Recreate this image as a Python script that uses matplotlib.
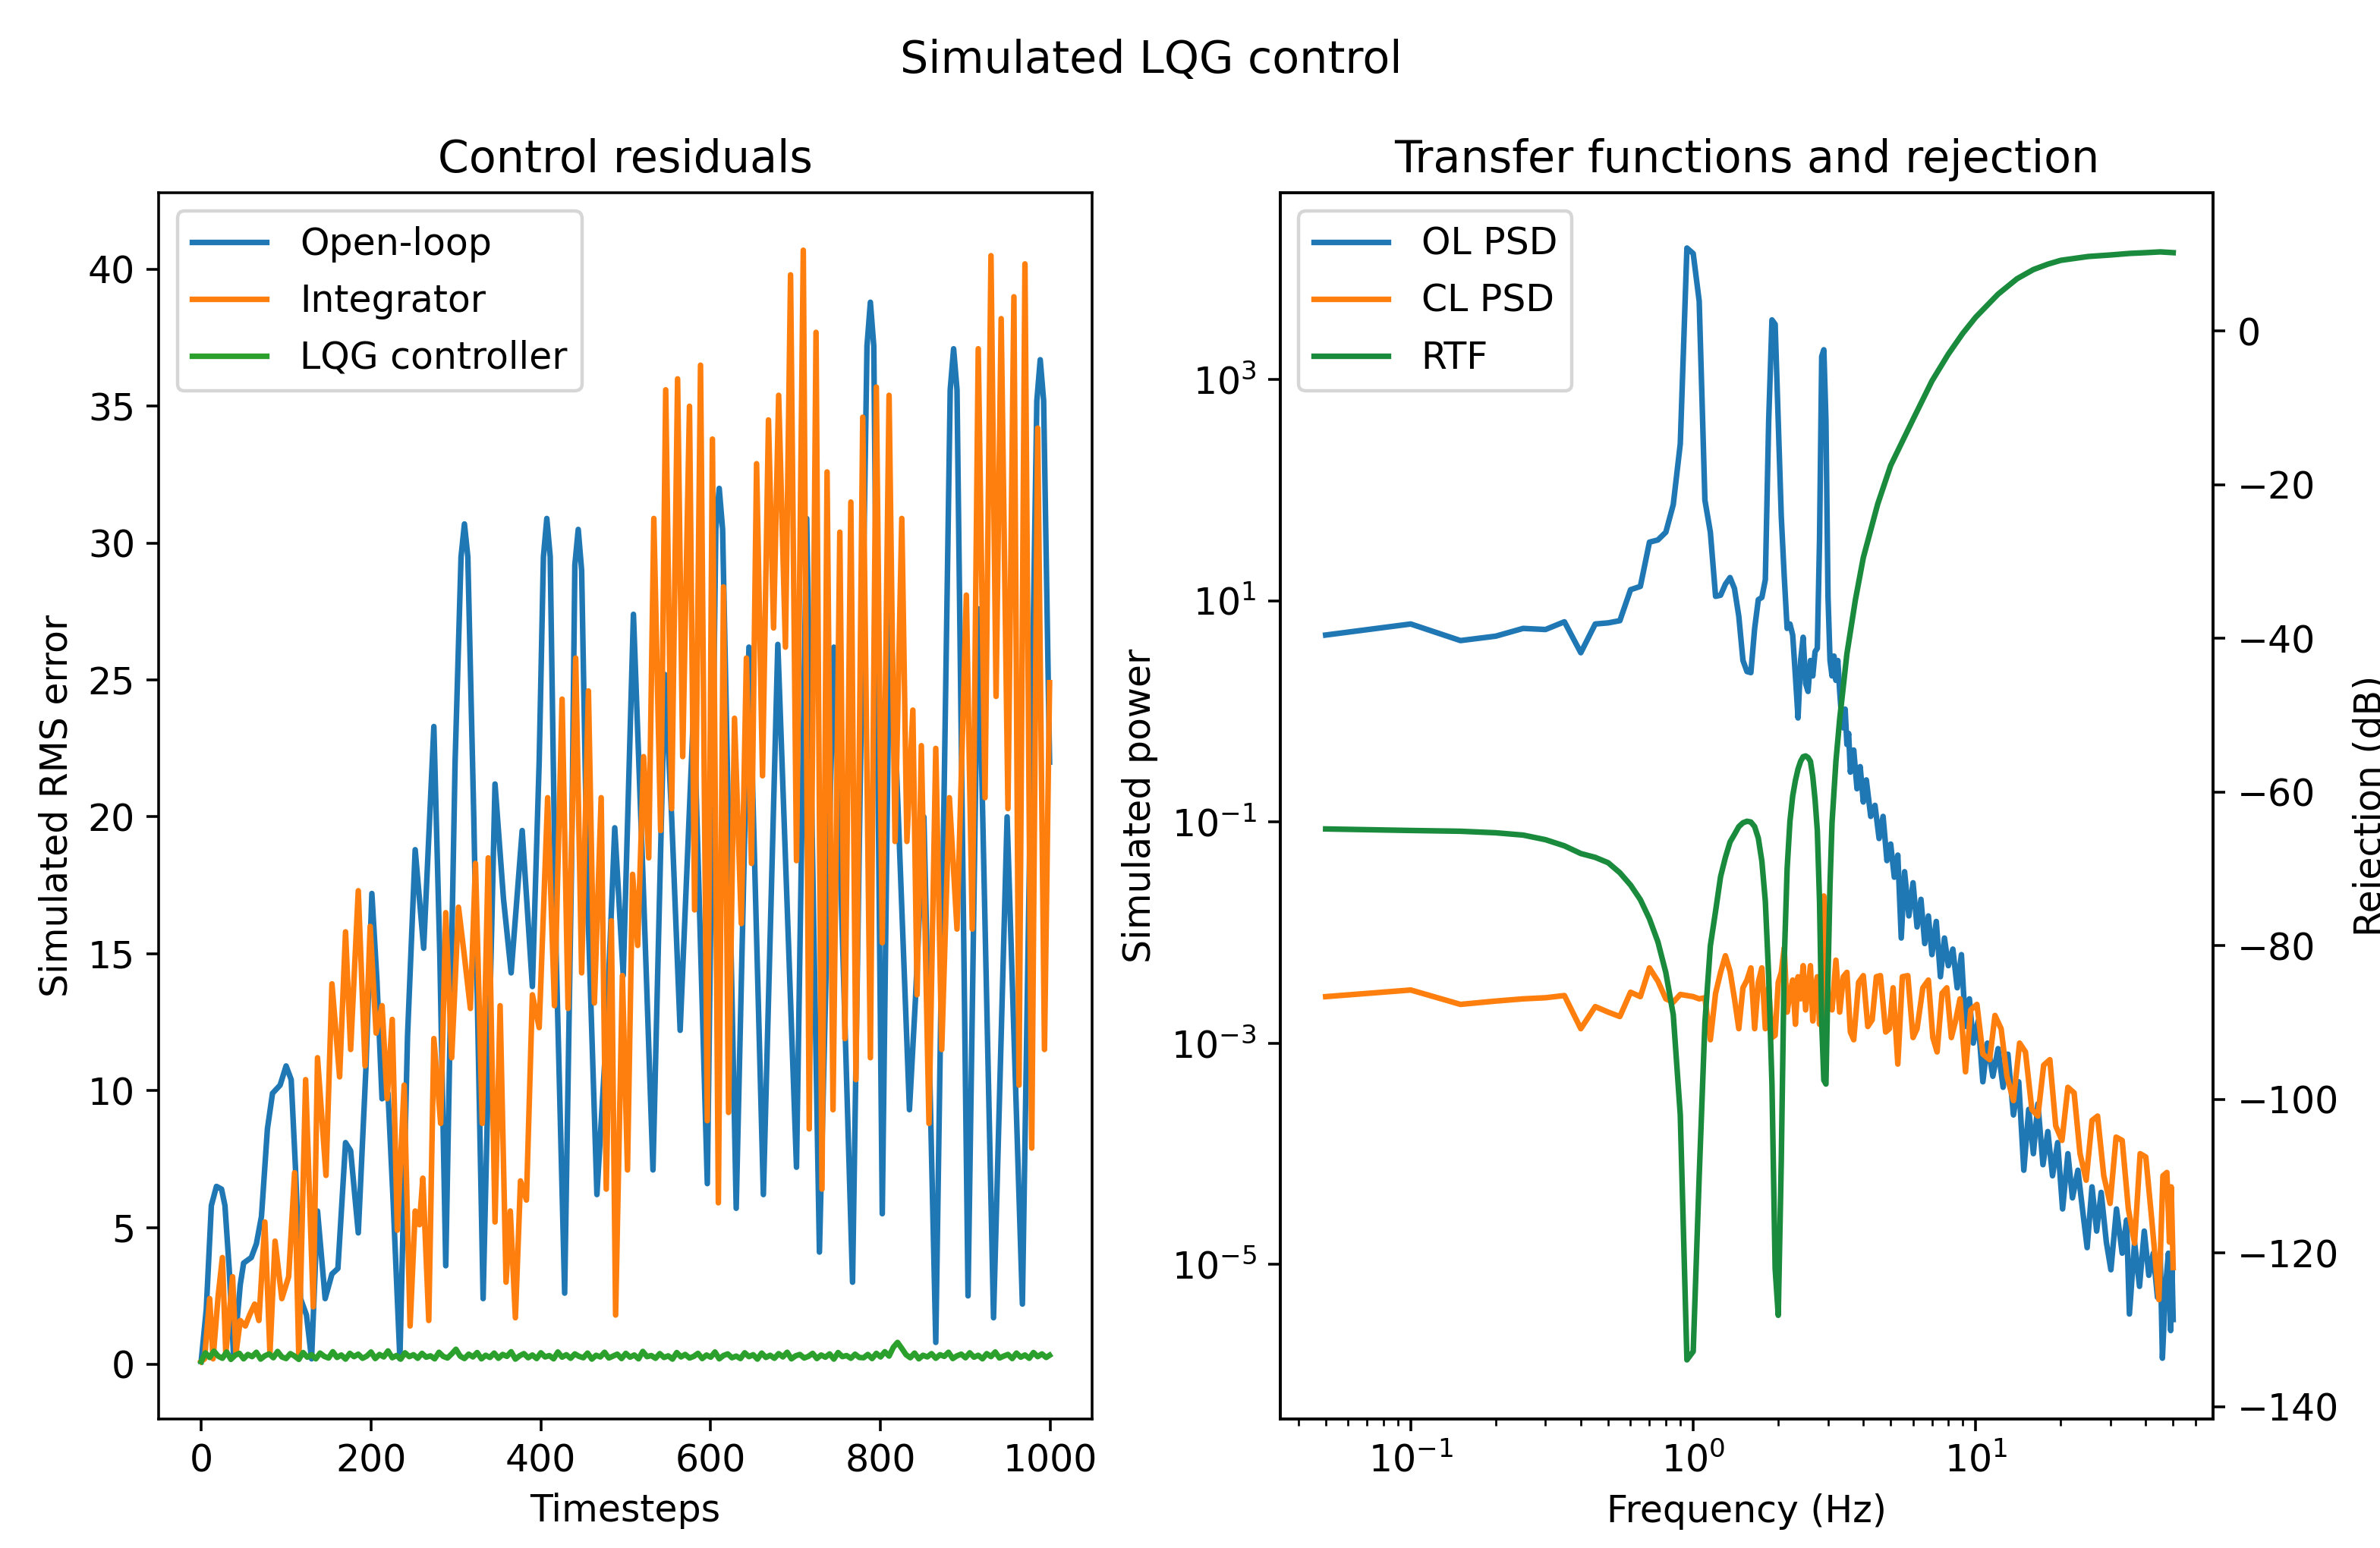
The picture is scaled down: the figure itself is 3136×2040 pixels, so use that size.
import numpy as np
import matplotlib
matplotlib.use('Agg')
import matplotlib.pyplot as plt
from matplotlib.ticker import NullLocator

plt.rcParams['font.size'] = 11
plt.rcParams['lines.linewidth'] = 1.65

# ---- left panel: residuals (turning points) ----
ol_t = [0, 6, 12, 18, 24, 28, 33, 38, 42, 46, 50, 59, 65, 71, 78, 84, 93, 100,
        106, 111, 117, 124, 130, 137, 146, 154, 161, 170, 176, 185, 194, 201,
        207, 213, 220, 226, 234, 243, 252, 262, 274, 281, 288, 299, 306, 310,
        314, 321, 332, 346, 356, 365, 378, 390, 398, 403, 407, 411, 418, 428,
        436, 440, 444, 448, 455, 466, 477, 487, 497, 509, 520, 532, 546, 554,
        564, 580, 596, 606, 610, 614, 630, 645, 662, 679, 701, 713, 728, 745,
        767, 784, 788, 792, 802, 811, 834, 841, 851, 865, 882, 886, 890, 903,
        915, 933, 949, 967, 984, 988, 992, 999]
ol_v = [0.1, 2.0, 5.8, 6.5, 6.4, 5.8, 3.5, 0.4, 1.5, 2.9, 3.7, 3.9, 4.4, 5.4,
        8.6, 9.9, 10.2, 10.9, 10.4, 7.2, 2.4, 1.8, 0.2, 5.6, 2.4, 3.3, 3.5, 8.1,
        7.8, 4.8, 10.8, 17.2, 14.0, 9.7, 9.9, 6.0, 0.2, 12.0, 18.8, 15.2, 23.3,
        15.0, 3.6, 22.0, 29.5, 30.7, 29.5, 20.0, 2.4, 21.2, 17.0, 14.3, 19.5,
        13.8, 22.0, 29.5, 30.9, 29.5, 15.0, 2.6, 18.0, 29.2, 30.5, 29.0, 17.0,
        6.2, 12.0, 19.6, 14.2, 27.4, 18.0, 7.1, 25.2, 20.0, 12.2, 24.0, 6.6,
        30.5, 32.0, 30.5, 5.7, 26.2, 6.2, 26.3, 7.2, 30.9, 4.1, 26.2, 3.0, 37.2,
        38.8, 37.2, 5.5, 28.1, 9.3, 13.3, 20.0, 0.8, 35.6, 37.1, 35.6, 2.5,
        27.6, 1.7, 20.0, 2.2, 35.2, 36.7, 35.2, 22.0]

int_t = [0, 4, 10, 14, 20, 25, 29, 37, 41, 46, 52, 57, 63, 68, 75, 81, 87, 95,
         103, 110, 115, 123, 132, 137, 147, 154, 163, 170, 176, 185, 193, 199,
         206, 213, 219, 225, 231, 239, 246, 252, 257, 261, 268, 274, 282, 288,
         295, 303, 310, 317, 323, 331, 338, 346, 352, 359, 364, 370, 376, 383,
         390, 398, 408, 416, 425, 432, 441, 448, 456, 463, 471, 477, 483, 488,
         496, 502, 508, 514, 521, 527, 533, 541, 547, 554, 561, 567, 575, 581,
         588, 596, 602, 609, 615, 621, 628, 636, 642, 648, 654, 661, 668, 674,
         680, 688, 694, 701, 709, 716, 724, 731, 737, 744, 752, 758, 765, 771,
         779, 788, 795, 802, 810, 817, 825, 831, 838, 843, 848, 857, 865, 872,
         881, 890, 901, 908, 915, 923, 930, 936, 942, 950, 957, 963, 970, 978,
         985, 993, 999]
int_v = [0.1, 0.2, 2.4, 0.2, 2.5, 3.9, 0.4, 3.2, 0.4, 1.6, 1.4, 1.8, 2.2, 1.6,
         5.2, 0.4, 4.5, 2.4, 3.2, 7.0, 0.2, 10.4, 2.1, 11.2, 6.9, 13.9, 10.5,
         15.8, 11.5, 17.3, 10.9, 16.0, 12.1, 13.1, 9.7, 12.6, 4.9, 10.2, 1.4,
         5.6, 5.1, 6.8, 1.6, 11.9, 8.8, 16.5, 11.2, 16.7, 14.9, 13.0, 18.3, 8.8,
         18.5, 5.2, 13.1, 3.0, 5.6, 1.7, 6.7, 6.0, 13.5, 12.3, 20.7, 13.1, 24.3,
         13.0, 25.8, 14.3, 24.6, 13.2, 20.7, 6.4, 16.2, 1.8, 14.2, 7.1, 17.9,
         15.3, 22.2, 18.5, 30.9, 19.5, 35.6, 20.3, 36.0, 22.2, 35.0, 16.6, 36.5,
         8.9, 33.8, 5.9, 28.4, 9.2, 23.6, 16.1, 25.8, 18.3, 32.9, 21.5, 34.5,
         26.9, 35.4, 26.2, 39.8, 18.4, 40.7, 8.6, 37.7, 6.4, 32.6, 9.3, 30.4,
         11.9, 31.5, 10.4, 34.6, 11.2, 35.7, 15.4, 35.4, 19.1, 30.9, 19.1, 23.9,
         13.5, 22.6, 8.8, 22.5, 11.5, 20.7, 15.9, 28.1, 15.9, 37.1, 20.7, 40.5,
         24.4, 38.2, 20.3, 39.0, 10.2, 40.2, 7.9, 34.2, 11.5, 24.9]

lqg_t = list(range(0, 1000, 5)) + [999]
lqg_v = [0.10, 0.42, 0.25, 0.48, 0.30, 0.22, 0.45, 0.18, 0.33, 0.40, 0.20, 0.36,
         0.28, 0.44, 0.19, 0.31, 0.38, 0.24, 0.47, 0.27, 0.21, 0.39, 0.30, 0.18,
         0.43, 0.26, 0.35, 0.20, 0.41, 0.29, 0.23, 0.46, 0.25, 0.34, 0.19, 0.40,
         0.28, 0.37, 0.22, 0.30, 0.45, 0.21, 0.36, 0.27, 0.49, 0.24, 0.32, 0.19,
         0.42, 0.28, 0.35, 0.22, 0.40, 0.26, 0.31, 0.20, 0.44, 0.29, 0.23, 0.38,
         0.55, 0.30, 0.21, 0.37, 0.27, 0.43, 0.20, 0.33, 0.25, 0.41, 0.22, 0.36,
         0.29, 0.46, 0.19, 0.31, 0.39, 0.24, 0.34, 0.21, 0.42, 0.27, 0.32, 0.20,
         0.45, 0.26, 0.35, 0.22, 0.38, 0.29, 0.24, 0.41, 0.19, 0.33, 0.27, 0.44,
         0.23, 0.30, 0.37, 0.21, 0.40, 0.26, 0.34, 0.20, 0.47, 0.28, 0.32, 0.22,
         0.39, 0.25, 0.31, 0.19, 0.43, 0.27, 0.36, 0.23, 0.29, 0.40, 0.21, 0.34,
         0.26, 0.45, 0.20, 0.32, 0.38, 0.24, 0.30, 0.21, 0.42, 0.28, 0.35, 0.19,
         0.41, 0.25, 0.33, 0.22, 0.39, 0.27, 0.44, 0.20, 0.31, 0.36, 0.23, 0.29,
         0.40, 0.21, 0.34, 0.26, 0.38, 0.19, 0.43, 0.28, 0.32, 0.22, 0.37, 0.25,
         0.24, 0.36, 0.21, 0.40, 0.27, 0.46, 0.30, 0.62, 0.80, 0.58, 0.35, 0.24,
         0.41, 0.20, 0.33, 0.27, 0.39,
         0.22, 0.35, 0.29, 0.44, 0.21, 0.31, 0.37, 0.24, 0.42, 0.26, 0.33, 0.20,
         0.39, 0.28, 0.45, 0.23, 0.30, 0.36, 0.21, 0.41, 0.26, 0.34, 0.22, 0.43,
         0.28, 0.38, 0.25, 0.33]

# ---- right panel: PSDs (log10 power) and rejection transfer function ----
ol_f = [0.05, 0.10, 0.15, 0.20, 0.25, 0.30, 0.35, 0.40, 0.45, 0.50, 0.55, 0.60,
        0.65, 0.70, 0.75, 0.80, 0.85, 0.90, 0.95, 1.00, 1.05, 1.10, 1.15, 1.20,
        1.25, 1.30, 1.35, 1.40, 1.45, 1.50, 1.55, 1.60, 1.65, 1.70, 1.75, 1.80,
        1.85, 1.90, 1.95, 2.00, 2.05, 2.10, 2.15, 2.20, 2.25, 2.30, 2.35, 2.40,
        2.45, 2.50, 2.55, 2.60, 2.65, 2.70, 2.75, 2.80, 2.85, 2.90, 2.95, 3.00,
        3.05, 3.10, 3.15, 3.20, 3.25, 3.30, 3.35, 3.40, 3.45, 3.50, 3.55, 3.60,
        3.70, 3.80, 3.90, 4.00, 4.10, 4.25, 4.40, 4.55, 4.70, 4.85, 5.00, 5.15,
        5.30, 5.45, 5.60, 5.80, 6.00, 6.20, 6.40, 6.60, 6.80, 7.00, 7.25, 7.50,
        7.75, 8.00, 8.30, 8.60, 8.90, 9.20, 9.50, 9.80, 10.2, 10.6, 11.0, 11.5,
        12.0, 12.5, 13.0, 13.6, 14.2, 14.8, 15.4, 16.0, 16.6, 17.3, 18.0, 18.7,
        19.5, 20.3, 21.2, 22.0, 23.0, 24.0, 24.8, 25.8, 26.8, 27.8, 29.0, 30.1,
        31.5, 33.0, 34.2, 35.0, 36.5, 38.0, 39.5, 41.0, 42.5, 44.0, 45.0, 45.8,
        47.0, 48.1, 49.0, 49.5, 50.0]
ol_psd = [0.69, 0.79, 0.64, 0.68, 0.75, 0.74, 0.81, 0.53, 0.79, 0.80, 0.82, 1.10,
          1.13, 1.53, 1.55, 1.62, 1.87, 2.42, 4.19, 4.14, 3.71, 1.91, 1.62, 1.04,
          1.05, 1.15, 1.21, 1.11, 0.86, 0.46, 0.36, 0.35, 0.75, 1.01, 1.03, 1.19,
          2.63, 3.54, 3.50, 2.63, 1.76, 1.22, 0.75, 0.79, 0.69, 0.32, -0.06, 0.46,
          0.67, 0.25, 0.18, 0.46, 0.32, 0.54, 0.57, 1.55, 3.21, 3.27, 2.63, 1.04,
          0.46, 0.32, 0.50, 0.28, 0.46, 0.18, -0.05, -0.15, 0.02, -0.30, -0.20,
          -0.55, -0.35, -0.70, -0.50, -0.82, -0.62, -0.95, -0.85, -1.15, -0.95,
          -1.35, -1.20, -1.50, -1.30, -2.05, -1.45, -1.85, -1.55, -1.95, -1.70,
          -2.10, -1.85, -2.20, -1.90, -2.40, -2.05, -2.30, -2.15, -2.50, -2.20,
          -2.85, -2.60, -3.00, -2.80, -3.35, -3.00, -3.30, -3.05, -3.40, -3.10,
          -3.65, -3.35, -4.15, -3.60, -4.00, -3.55, -4.10, -3.80, -4.20, -3.90,
          -4.50, -4.00, -4.40, -4.15, -4.55, -4.85, -4.30, -4.70, -4.35, -4.80,
          -5.05, -4.50, -4.90, -4.60, -5.45, -4.80, -5.20, -4.70, -5.10, -4.90,
          -5.30, -4.90, -5.85, -5.20, -4.90, -5.60, -5.00, -5.50]

cl_f = [0.05, 0.10, 0.15, 0.20, 0.25, 0.30, 0.35, 0.40, 0.45, 0.50, 0.55, 0.60,
        0.65, 0.70, 0.75, 0.80, 0.85, 0.90, 0.95, 1.00, 1.05, 1.10, 1.15, 1.20,
        1.25, 1.30, 1.35, 1.40, 1.45, 1.50, 1.55, 1.60, 1.65, 1.70, 1.75, 1.80,
        1.85, 1.90, 1.95, 2.00, 2.05, 2.10, 2.15, 2.20, 2.25, 2.30, 2.35, 2.40,
        2.45, 2.50, 2.55, 2.60, 2.65, 2.70, 2.75, 2.80, 2.85, 2.90, 2.95, 3.00,
        3.10, 3.20, 3.30, 3.40, 3.50, 3.60, 3.70, 3.85, 4.00, 4.15, 4.30, 4.45,
        4.60, 4.80, 4.95, 5.10, 5.30, 5.50, 5.75, 6.00, 6.20, 6.50, 6.80, 7.05,
        7.30, 7.60, 7.90, 8.20, 8.50, 8.80, 9.20, 9.60, 10.1, 10.6, 11.2, 11.7,
        12.3, 12.9, 13.6, 14.3, 15.0, 15.8, 16.6, 17.4, 18.3, 19.2, 20.2, 21.2,
        22.3, 23.4, 24.6, 25.8, 27.0, 28.4, 29.9, 31.4, 33.0, 34.7, 36.5, 38.2,
        40.0, 42.0, 44.5, 46.0, 47.5, 48.5, 49.2, 50.0]
cl_psd = [-2.58, -2.52, -2.65, -2.62, -2.60, -2.59, -2.57, -2.87, -2.67, -2.72,
          -2.76, -2.54, -2.58, -2.32, -2.44, -2.60, -2.63, -2.56, -2.57, -2.58,
          -2.60, -2.59, -2.97, -2.55, -2.36, -2.21, -2.35, -2.60, -2.87, -2.50,
          -2.43, -2.32, -2.87, -2.45, -2.32, -2.87, -2.50, -2.95, -2.93, -2.45,
          -2.36, -2.14, -2.72, -2.55, -2.43, -2.83, -2.40, -2.60, -2.30, -2.70,
          -2.50, -2.30, -2.80, -2.50, -2.40, -2.83, -2.50, -1.67, -2.79, -2.55,
          -2.70, -2.25, -2.72, -2.40, -2.36, -2.90, -2.97, -2.45, -2.39, -2.85,
          -2.79, -2.40, -2.39, -2.90, -2.87, -2.50, -3.19, -2.40, -2.39, -2.95,
          -2.87, -2.50, -2.43, -2.95, -3.08, -2.55, -2.50, -2.95, -2.79, -2.60,
          -3.26, -2.70, -2.65, -3.10, -3.15, -2.75, -2.87, -3.30, -3.52, -3.00,
          -3.08, -3.60, -3.66, -3.20, -3.15, -3.75, -3.88, -3.40, -3.45, -4.00,
          -4.24, -3.70, -3.66, -4.20, -4.45, -3.85, -3.88, -4.50, -4.81, -4.00,
          -4.03, -4.60, -5.32, -4.20, -4.17, -4.80, -4.30, -5.03]

rtf_f = [0.05, 0.10, 0.15, 0.20, 0.25, 0.30, 0.35, 0.40, 0.45, 0.50, 0.55, 0.60,
         0.65, 0.70, 0.75, 0.80, 0.85, 0.90, 0.95, 1.00, 1.05, 1.10, 1.15, 1.20,
         1.25, 1.30, 1.35, 1.40, 1.45, 1.50, 1.55, 1.60, 1.65, 1.70, 1.75, 1.80,
         1.85, 1.90, 1.95, 2.00, 2.05, 2.10, 2.15, 2.20, 2.25, 2.30, 2.35, 2.40,
         2.45, 2.50, 2.55, 2.60, 2.65, 2.70, 2.75, 2.80, 2.85, 2.90, 2.95, 3.00,
         3.05, 3.10, 3.20, 3.30, 3.50, 3.75, 4.00, 4.50, 5.00, 6.00, 7.00, 8.00,
         9.00, 10.0, 12.0, 14.0, 16.0, 18.0, 20.0, 25.0, 30.0, 35.0, 40.0, 45.0,
         50.0]
rtf_db = [-64.8, -65.0, -65.1, -65.3, -65.6, -66.2, -67.0, -68.0, -68.5, -69.2,
          -70.5, -72.1, -74.0, -76.5, -79.5, -83.5, -89.0, -102.0, -133.9, -132.8,
          -110.0, -90.0, -80.0, -75.5, -71.0, -68.5, -66.5, -65.5, -64.5, -64.0,
          -63.8, -63.9, -64.5, -66.0, -69.0, -74.2, -84.0, -98.0, -122.0, -128.1,
          -108.0, -82.0, -70.0, -63.8, -60.5, -58.5, -57.0, -56.0, -55.4, -55.3,
          -55.5, -56.0, -58.0, -61.0, -65.0, -74.2, -90.0, -97.5, -98.0, -84.0,
          -72.0, -64.0, -56.0, -50.5, -42.0, -35.0, -29.5, -22.5, -17.5, -11.5,
          -6.5, -3.0, -0.3, 1.8, 4.8, 6.8, 8.0, 8.7, 9.2, 9.7, 9.9, 10.1, 10.2,
          10.3, 10.2]


fig, (ax1, ax2) = plt.subplots(1, 2, figsize=(9.8, 6.375), dpi=320)
plt.subplots_adjust(left=0.0667, right=0.930, bottom=0.0833, top=0.8755,
                    wspace=0.2016)
fig.suptitle('Simulated LQG control', x=0.4835, y=0.975)

ax1.plot(ol_t, ol_v, label='Open-loop')
ax1.plot(int_t, int_v, label='Integrator')
ax1.plot(lqg_t, lqg_v, label='LQG controller')
ax1.set_xlim(-49.95, 1048.95)
ax1.set_ylim(-2.0, 42.8)
ax1.set_xlabel('Timesteps')
ax1.set_ylabel('Simulated RMS error')
ax1.set_title('Control residuals')
ax1.legend(loc='upper left', labelspacing=0.55, handletextpad=0.9)

l1, = ax2.loglog(ol_f, 10.0 ** np.array(ol_psd), color='C0', label='OL PSD')
l2, = ax2.loglog(cl_f, 10.0 ** np.array(cl_psd), color='C1', label='CL PSD')
ax2.set_xlim(0.0345, 69.4)
ax2.set_ylim(10 ** -6.40, 10 ** 4.69)
ax2.set_yticks([1e-5, 1e-3, 1e-1, 1e1, 1e3])
ax2.yaxis.set_minor_locator(NullLocator())
ax2.set_xlabel('Frequency (Hz)')
ax2.set_ylabel('Simulated power')
ax2.set_title('Transfer functions and rejection')

ax3 = ax2.twinx()
l3, = ax3.semilogx(rtf_f, rtf_db, color='#1a8a3c', label='RTF')
ax3.set_ylim(-141.6, 18.0)
ax3.set_ylabel('Rejection (dB)')
ax3.legend([l1, l2, l3], ['OL PSD', 'CL PSD', 'RTF'], loc='upper left',
           labelspacing=0.55, handletextpad=0.9)

fig.savefig('out.png', dpi=320)
